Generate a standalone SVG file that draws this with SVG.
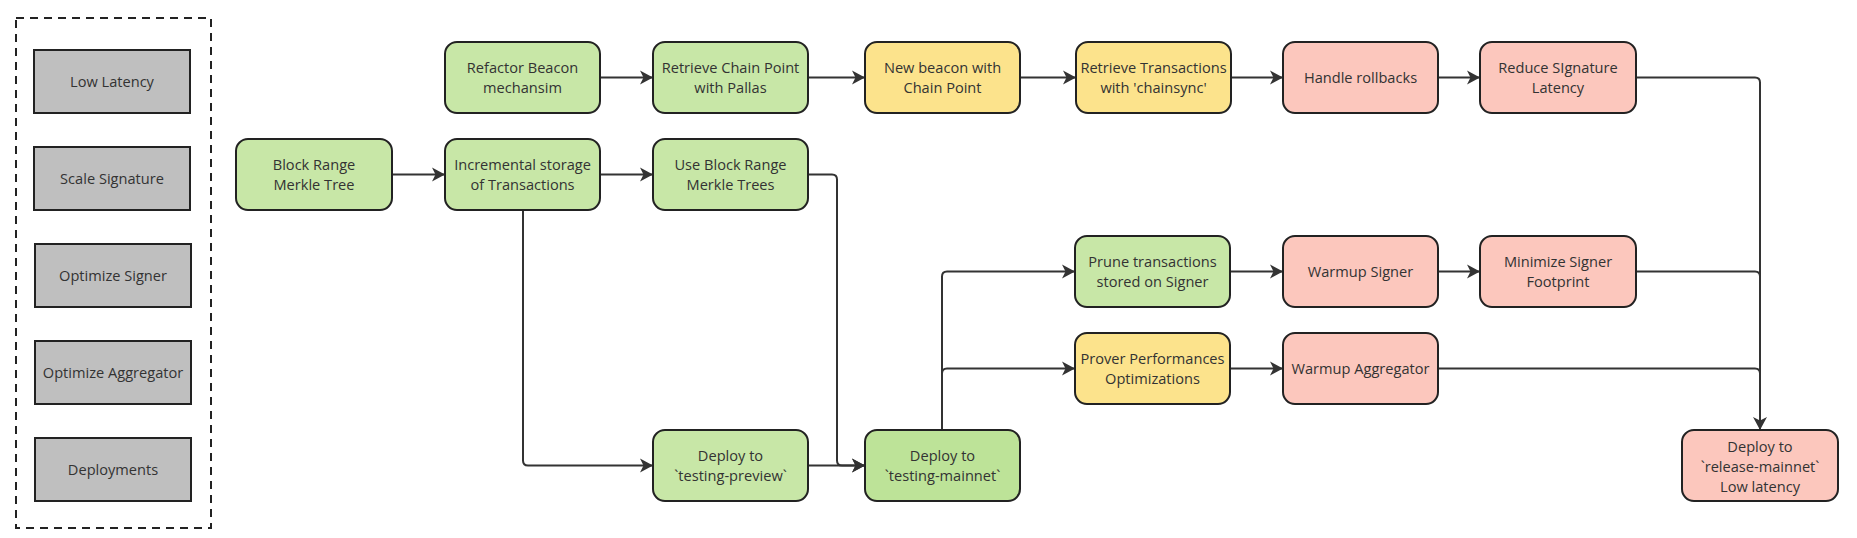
<svg xmlns="http://www.w3.org/2000/svg" width="1857" height="538" viewBox="0 0 1857 538">
<style>
.n{stroke:#222;stroke-width:2}
.g{fill:#c8e7a7}
.g2{fill:#bde398}
.y{fill:#fce38c}
.p{fill:#fcc7bd}
.k{fill:#bfbfbf}
text{font-family:"Open Sans","Noto Sans","Liberation Sans",sans-serif;font-size:14.6px;fill:#333;text-anchor:middle}
.c{fill:none;stroke:#333;stroke-width:2}
</style>
<defs>
<marker id="ah" markerUnits="userSpaceOnUse" markerWidth="16" markerHeight="16" refX="13" refY="8" orient="auto">
<path d="M0,1 L13,8 L0,15 L3.5,8 Z" fill="#333"/>
</marker>
</defs>
<rect x="0" y="0" width="1857" height="538" fill="#fff"/>
<g id="legend">
<rect x="16" y="18" width="195" height="510" fill="none" stroke="#222" stroke-width="2" stroke-dasharray="8,6"/>
<g id="low-latency"><rect class="n k" x="34" y="50" width="156" height="63"/><text x="112" y="86.5">Low Latency</text></g>
<g id="scale-signature"><rect class="n k" x="34" y="147" width="156" height="63"/><text x="112" y="183.5">Scale Signature</text></g>
<g id="optimize-signer"><rect class="n k" x="35" y="244" width="156" height="63"/><text x="113" y="280.5">Optimize Signer</text></g>
<g id="optimize-aggregator"><rect class="n k" x="35" y="341" width="156" height="63"/><text x="113" y="377.5">Optimize Aggregator</text></g>
<g id="deployments"><rect class="n k" x="35" y="438" width="156" height="63"/><text x="113" y="474.5">Deployments</text></g>
</g>
<g id="connectors">
<path class="c" d="M392,174.5 H445" marker-end="url(#ah)"/>
<path class="c" d="M600,77.5 H653" marker-end="url(#ah)"/>
<path class="c" d="M808,77.5 H865" marker-end="url(#ah)"/>
<path class="c" d="M1020,77.5 H1076" marker-end="url(#ah)"/>
<path class="c" d="M1231,77.5 H1283" marker-end="url(#ah)"/>
<path class="c" d="M1438,77.5 H1480" marker-end="url(#ah)"/>
<path class="c" d="M600,174.5 H653" marker-end="url(#ah)"/>
<path class="c" d="M523,210 V460.5 Q523,465.5 528,465.5 H653" marker-end="url(#ah)"/>
<path class="c" d="M808,174.5 H832 Q837,174.5 837,179.5 V460.5 Q837,465.5 842,465.5 H865" marker-end="url(#ah)"/>
<path class="c" d="M808,465.5 H865" marker-end="url(#ah)"/>
<path class="c" d="M942,430 V276.5 Q942,271.5 947,271.5 H1075" marker-end="url(#ah)"/>
<path class="c" d="M942,373.5 Q942,368.5 947,368.5 H1075" marker-end="url(#ah)"/>
<path class="c" d="M1230,271.5 H1283" marker-end="url(#ah)"/>
<path class="c" d="M1438,271.5 H1480" marker-end="url(#ah)"/>
<path class="c" d="M1230,368.5 H1283" marker-end="url(#ah)"/>
<path class="c" d="M1636,77.5 H1755 Q1760,77.5 1760,82.5 V430" marker-end="url(#ah)"/>
<path class="c" d="M1636,271.5 H1755 Q1760,271.5 1760,276.5"/>
<path class="c" d="M1438,368.5 H1755 Q1760,368.5 1760,373.5"/>
</g>
<g id="refactor-beacon"><rect class="n g" x="445" y="42" width="155" height="71" rx="12"/><text x="522.5" y="73">Refactor Beacon</text><text x="522.5" y="93">mechansim</text></g>
<g id="retrieve-chain-point"><rect class="n g" x="653" y="42" width="155" height="71" rx="12"/><text x="730.5" y="73">Retrieve Chain Point</text><text x="730.5" y="93">with Pallas</text></g>
<g id="new-beacon"><rect class="n y" x="865" y="42" width="155" height="71" rx="12"/><text x="942.5" y="73">New beacon with</text><text x="942.5" y="93">Chain Point</text></g>
<g id="retrieve-transactions"><rect class="n y" x="1076" y="42" width="155" height="71" rx="12"/><text x="1153.5" y="73">Retrieve Transactions</text><text x="1153.5" y="93">with 'chainsync'</text></g>
<g id="handle-rollbacks"><rect class="n p" x="1283" y="42" width="155" height="71" rx="12"/><text x="1360.5" y="83">Handle rollbacks</text></g>
<g id="reduce-signature-latency"><rect class="n p" x="1480" y="42" width="156" height="71" rx="12"/><text x="1558" y="73">Reduce SIgnature</text><text x="1558" y="93">Latency</text></g>
<g id="block-range-merkle-tree"><rect class="n g" x="236" y="139" width="156" height="71" rx="12"/><text x="314" y="170">Block Range</text><text x="314" y="190">Merkle Tree</text></g>
<g id="incremental-storage"><rect class="n g" x="445" y="139" width="155" height="71" rx="12"/><text x="522.5" y="170">Incremental storage</text><text x="522.5" y="190">of Transactions</text></g>
<g id="use-block-range"><rect class="n g" x="653" y="139" width="155" height="71" rx="12"/><text x="730.5" y="170">Use Block Range</text><text x="730.5" y="190">Merkle Trees</text></g>
<g id="prune-transactions"><rect class="n g" x="1075" y="236" width="155" height="71" rx="12"/><text x="1152.5" y="267">Prune transactions</text><text x="1152.5" y="287">stored on Signer</text></g>
<g id="warmup-signer"><rect class="n p" x="1283" y="236" width="155" height="71" rx="12"/><text x="1360.5" y="277">Warmup Signer</text></g>
<g id="minimize-signer-footprint"><rect class="n p" x="1480" y="236" width="156" height="71" rx="12"/><text x="1558" y="267">Minimize Signer</text><text x="1558" y="287">Footprint</text></g>
<g id="prover-performances"><rect class="n y" x="1075" y="333" width="155" height="71" rx="12"/><text x="1152.5" y="364">Prover Performances</text><text x="1152.5" y="384">Optimizations</text></g>
<g id="warmup-aggregator"><rect class="n p" x="1283" y="333" width="155" height="71" rx="12"/><text x="1360.5" y="374">Warmup Aggregator</text></g>
<g id="deploy-testing-preview"><rect class="n g" x="653" y="430" width="155" height="71" rx="12"/><text x="730.5" y="461">Deploy to</text><text x="730.5" y="481">`testing-preview`</text></g>
<g id="deploy-testing-mainnet"><rect class="n g2" x="865" y="430" width="155" height="71" rx="12"/><text x="942.5" y="461">Deploy to</text><text x="942.5" y="481">`testing-mainnet`</text></g>
<g id="deploy-release-mainnet"><rect class="n p" x="1682" y="430" width="156" height="71" rx="12"/><text x="1760" y="451.5">Deploy to</text><text x="1760" y="471.5">`release-mainnet`</text><text x="1760" y="491.5">Low latency</text></g>
</svg>
